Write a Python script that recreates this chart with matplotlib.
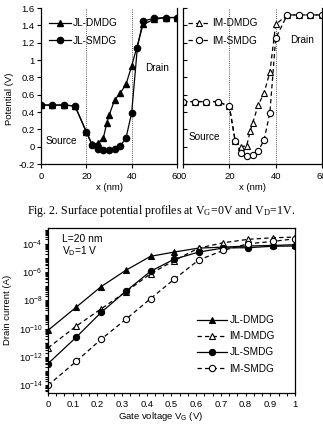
import matplotlib
matplotlib.use("Agg")
import matplotlib.pyplot as plt
import numpy as np
from matplotlib.ticker import FixedLocator, NullFormatter, FuncFormatter

plt.rcParams['font.family'] = ['Liberation Sans', 'DejaVu Sans']
plt.rcParams['mathtext.fontset'] = 'custom'
plt.rcParams['mathtext.rm'] = 'Liberation Sans'
plt.rcParams['mathtext.it'] = 'Liberation Sans:italic'
plt.rcParams['mathtext.bf'] = 'Liberation Sans:bold'

# ---------------- data: surface potential (V) vs x (nm) ----------------
x_jl_dmdg = [0, 5, 10, 15, 20, 22.5, 25, 27.5, 29, 30, 32.5, 35, 37.5, 40, 45, 50, 55, 60]
v_jl_dmdg = [0.48, 0.48, 0.48, 0.47, 0.17, 0.03, 0.04, 0.10, 0.27, 0.36, 0.54, 0.62, 0.72, 0.93, 1.41, 1.47, 1.49, 1.49]

x_jl_smdg = [0, 5, 10, 15, 20, 22.5, 25, 27.5, 30, 32.5, 35, 37.5, 40, 42.5, 45, 50, 55, 60]
v_jl_smdg = [0.48, 0.48, 0.48, 0.47, 0.17, 0.02, -0.03, -0.04, -0.04, -0.03, 0.01, 0.10, 0.39, 1.14, 1.45, 1.48, 1.49, 1.49]

x_im_dmdg = [0, 5, 10, 15, 20, 22.5, 25, 27.5, 29, 30, 32.5, 35, 37.5, 40, 45, 50, 55, 60]
v_im_dmdg = [0.52, 0.52, 0.52, 0.52, 0.465, 0.07, 0.0, 0.01, 0.18, 0.27, 0.48, 0.62, 0.86, 1.41, 1.52, 1.52, 1.52, 1.52]

x_im_smdg = [0, 5, 10, 15, 20, 22.5, 25, 27.5, 30, 32.5, 35, 37.5, 40, 45, 50, 55, 60]
v_im_smdg = [0.52, 0.52, 0.52, 0.52, 0.465, 0.07, -0.07, -0.11, -0.10, -0.05, 0.08, 0.39, 1.25, 1.52, 1.52, 1.52, 1.52]

# ---------------- data: drain current (A) vs gate voltage (V) ----------------
vg = [0, 0.115, 0.215, 0.315, 0.415, 0.51, 0.61, 0.71, 0.81, 0.91, 1.0]
log_id_jl_dmdg = [-10.12, -8.47, -7.03, -5.88, -4.89, -4.59, -4.31, -4.24, -4.16, -4.12, -4.07]
log_id_im_dmdg = [-11.36, -9.81, -8.60, -7.40, -6.12, -5.20, -4.31, -3.93, -3.69, -3.58, -3.53]
log_id_jl_smdg = [-12.47, -10.59, -8.85, -7.36, -5.95, -5.10, -4.59, -4.30, -4.28, -4.18, -4.16]
log_id_im_smdg = [-14.0, -12.3, -10.75, -9.34, -7.88, -6.52, -5.15, -4.47, -4.00, -3.84, -3.65]

labels_top_left = ['JL-DMDG', 'JL-SMDG']
labels_top_right = ['IM-DMDG', 'IM-SMDG']
labels_bottom = ['JL-DMDG', 'IM-DMDG', 'JL-SMDG', 'IM-SMDG']
pot_ticks = [-0.2, 0, 0.2, 0.4, 0.6, 0.8, 1, 1.2, 1.4, 1.6]
x_ticks = [0, 20, 40, 60]
vg_ticks = [0, 0.1, 0.2, 0.3, 0.4, 0.5, 0.6, 0.7, 0.8, 0.9, 1]

W, H = 323, 426
fig = plt.figure(figsize=(W / 100, H / 100), dpi=100)

def fbox(x0, y0, x1, y1):
    return [x0 / W, 1 - y1 / H, (x1 - x0) / W, (y1 - y0) / H]

FS = 6.8
lw = 0.9
ms = 4.5
dash = (0, (3.5, 2.5))

def pot_fmt(v, pos):
    if abs(v - round(v)) < 1e-9:
        return '%d' % round(v)
    return '%.1f' % v

axL = fig.add_axes(fbox(41, 8, 177, 164))
axR = fig.add_axes(fbox(183, 8, 322, 164))

for ax in (axL, axR):
    ax.set_xlim(0, 60)
    ax.set_ylim(-0.2, 1.6)
    ax.spines['top'].set_visible(False)
    for s in ax.spines.values():
        s.set_linewidth(0.9)
    ax.set_xticks(x_ticks)
    ax.set_yticks(pot_ticks)
    ax.axvline(20, color='0.35', ls=(0, (1, 1.2)), lw=0.7)
    ax.axvline(40, color='0.35', ls=(0, (1, 1.2)), lw=0.7)
    ax.tick_params(axis='x', direction='out', length=3, width=0.8, labelsize=FS, pad=2.5)
    ax.set_xlabel('x (nm)', fontsize=FS, labelpad=1.5)

axL.tick_params(axis='y', direction='out', length=3, width=0.8, labelsize=FS, pad=1.5)
axL.yaxis.set_major_formatter(FuncFormatter(pot_fmt))
axR.tick_params(axis='y', direction='in', length=3, width=0.8, labelleft=False)
axL.set_ylabel('Potential (V)', fontsize=FS, labelpad=2)
axL.yaxis.set_label_coords(-0.2, 0.42)

axL.plot(x_jl_dmdg, v_jl_dmdg, '-', color='k', lw=lw, marker='^', ms=ms, mfc='k', mec='k', label=labels_top_left[0])
axL.plot(x_jl_smdg, v_jl_smdg, '-', color='k', lw=lw, marker='o', ms=ms, mfc='k', mec='k', label=labels_top_left[1])
axR.plot(x_im_dmdg, v_im_dmdg, ls=dash, color='k', lw=lw, marker='^', ms=ms, mfc='white', mec='k', mew=0.8, label=labels_top_right[0])
axR.plot(x_im_smdg, v_im_smdg, ls=dash, color='k', lw=lw, marker='o', ms=ms, mfc='white', mec='k', mew=0.8, label=labels_top_right[1])

leg_kw = dict(frameon=False, fontsize=FS + 0.4, handlelength=2.2, handletextpad=0.2,
              borderpad=0, borderaxespad=0, labelspacing=0.75, loc='upper left')
axL.legend(bbox_to_anchor=(49 / W, 1 - 18 / H), bbox_transform=fig.transFigure, **leg_kw)
axR.legend(bbox_to_anchor=(188 / W, 1 - 18 / H), bbox_transform=fig.transFigure, **leg_kw)

def ftext(x, y, s, **kw):
    fig.text(x / W, 1 - y / H, s, fontsize=FS + 0.4, va='center', **kw)

ftext(46, 141, 'Source')
ftext(145, 68, 'Drain')
ftext(189, 137, 'Source')
ftext(290, 40, 'Drain')

fig.text(161.5 / W, 1 - 211 / H, 'Fig. 2. Surface potential profiles at V$_{\\mathregular{G}}$=0V and V$_{\\mathregular{D}}$=1V.',
         fontsize=8.6, family=['Liberation Serif', 'DejaVu Serif'], ha='center', va='center',
         math_fontfamily='stix')

# ---------------- bottom panel ----------------
axB = fig.add_axes(fbox(48, 228, 295, 392.7))
axB.set_yscale('log')
axB.set_xlim(0, 1)
axB.set_ylim(10 ** -14.52, 10 ** -2.89)
for s in axB.spines.values():
    s.set_linewidth(0.9)

id_sets = [log_id_jl_dmdg, log_id_im_dmdg, log_id_jl_smdg, log_id_im_smdg]
styles = [dict(ls='-', marker='^', mfc='k'), dict(ls=dash, marker='^', mfc='white'),
          dict(ls='-', marker='o', mfc='k'), dict(ls=dash, marker='o', mfc='white')]
for lab, vals, st in zip(labels_bottom, id_sets, styles):
    axB.plot(vg, 10 ** np.array(vals), color='k', lw=lw, ms=ms, mec='k', mew=0.8, label=lab, **st)

axB.set_xticks(vg_ticks)
axB.xaxis.set_minor_locator(FixedLocator(np.arange(0, 1.0001, 1 / 30)))
axB.xaxis.set_major_formatter(FuncFormatter(lambda v, p: '%d' % round(v) if abs(v - round(v)) < 1e-9 else '%.1f' % v))
axB.tick_params(axis='x', which='both', direction='out', length=2.5, width=0.8, labelsize=FS, pad=2.5)
major_y = [10.0 ** k for k in range(-14, -2)]
axB.yaxis.set_major_locator(FixedLocator(major_y))
axB.yaxis.set_major_formatter(FuncFormatter(
    lambda v, p: ('10$^{\\mathregular{%d}}$' % round(np.log10(v))) if round(np.log10(v)) % 2 == 0 and round(np.log10(v)) <= -4 else ''))
minor_y = [m * 10.0 ** k for k in range(-15, -2) for m in range(2, 10)]
axB.yaxis.set_minor_locator(FixedLocator(minor_y))
axB.yaxis.set_minor_formatter(NullFormatter())
axB.tick_params(axis='y', which='both', direction='out', length=2.5, width=0.8, labelsize=FS, pad=1.5)
axB.set_xlabel('Gate voltage V$_{\\mathregular{G}}$ (V)', fontsize=FS, labelpad=1.5)
axB.xaxis.set_label_coords(0.455, -0.105)
axB.set_ylabel('Drain current (A)', fontsize=FS, labelpad=2)
axB.yaxis.set_label_coords(-0.145, 0.5)

axB.text(62 / W, 1 - 239 / H, 'L=20 nm', transform=fig.transFigure, fontsize=FS + 0.6, va='center')
axB.text(62 / W, 1 - 251 / H, 'V$_{\\mathregular{D}}$=1 V', transform=fig.transFigure, fontsize=FS + 0.6, va='center')

axB.legend(frameon=False, fontsize=FS + 0.4, handlelength=3.0, handletextpad=0.25, borderpad=0,
           borderaxespad=0, labelspacing=0.62, loc='upper left',
           bbox_to_anchor=(197 / W, 1 - 315 / H), bbox_transform=fig.transFigure)

fig.savefig('out.png', dpi=100)
